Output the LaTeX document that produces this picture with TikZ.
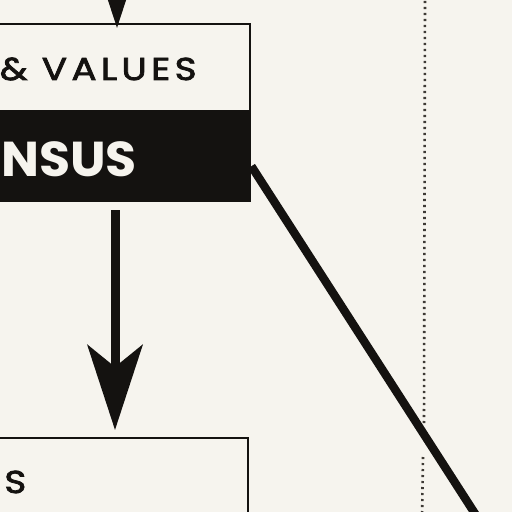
\documentclass[tikz,border=0pt]{standalone}
\usepackage{fontspec}
\usetikzlibrary{positioning,arrows.meta}
\newfontfamily\geofont[LetterSpace=14,FakeStretch=1.18,FakeBold=2.5]{Poppins}
\newfontfamily\geobold[LetterSpace=0,FakeStretch=1.03]{Poppins Bold}
\definecolor{cPaper}{HTML}{F6F4EE}
\definecolor{cInk}{HTML}{141210}
\definecolor{cDot}{HTML}{3E3A35}

\begin{document}
\begin{tikzpicture}[x=0.5pt,y=-0.5pt,
  panel/.style={draw=cInk,line width=1.2pt,fill=cPaper,anchor=north west,
                minimum width=154.5pt,inner sep=0pt},
  band/.style={draw=cInk,line width=1.2pt,fill=cInk,anchor=north west,
               minimum width=154.5pt,minimum height=45pt,inner sep=0pt},
  lbl/.style={font=\geofont\fontsize{15.8}{18}\selectfont,text=cInk,inner sep=0pt},
  lblw/.style={font=\geobold\fontsize{24.5}{28}\selectfont,text=cPaper,inner sep=0pt},
  arr/.style={-{Stealth[length=42.5pt,width=27.5pt,inset=11pt]},line width=4.5pt,cInk},
  tie/.style={line width=4.2pt,cInk},
  dots/.style={cDot,line width=1.3pt,dash pattern=on 1.1pt off 1.9pt}]

\fill[cPaper] (0,0) rectangle (512,512);
\useasboundingbox (0,0) rectangle (512,512);
\clip (0,0) rectangle (512,512);

% boxes
\node[panel,minimum height=43.5pt] (values) at (-60,23) {};
\node[band] (consensus) at (-60,110) {};
\node[panel,minimum height=80pt] (lower) at (-62,437) {};

% texts
\node[lbl,anchor=base east] (valtxt) at (197,80) {\& VALUES};
\node[lblw,anchor=base west] (constxt) at (1,177) {NSUS};
\node[lbl,anchor=base west] (lowtxt) at (4,493) {S};

% helpers
\coordinate (feed) at (117,-70);
\coordinate (ax) at (115,0);
\coordinate (far) at (481,523);
\coordinate (d1) at (425,-5);
\coordinate (d2) at (424,423);
\coordinate (d3) at (423,457);
\coordinate (d4) at (422,520);

% connectors
\draw[arr] (feed) -- ([yshift=-2.5pt]values.north -| feed);
\draw[arr,shorten <=4pt,shorten >=3.5pt] (consensus.south -| ax) -- (lower.north -| ax);
\draw[tie] ([yshift=-5pt]consensus.east) -- (far);
\draw[dots] (d1) -- (d2);
\draw[dots] (d3) -- (d4);
\end{tikzpicture}
\end{document}
